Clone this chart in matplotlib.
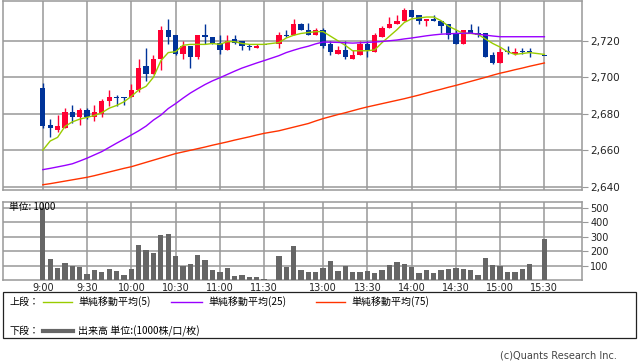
import matplotlib
matplotlib.use('Agg')
import matplotlib.pyplot as plt
from matplotlib.patches import Rectangle
from matplotlib.lines import Line2D
from matplotlib.ticker import FuncFormatter

# 5-minute bars (morning 9:00-11:30, afternoon 12:30-15:20, close 15:30)
times = ['9:00', '9:05', '9:10', '9:15', '9:20', '9:25', '9:30', '9:35', '9:40', '9:45',
         '9:50', '9:55', '10:00', '10:05', '10:10', '10:15', '10:20', '10:25', '10:30', '10:35',
         '10:40', '10:45', '10:50', '10:55', '11:00', '11:05', '11:10', '11:15', '11:20', '11:25',
         '11:30',
         '12:30', '12:35', '12:40', '12:45', '12:50', '12:55', '13:00', '13:05', '13:10', '13:15',
         '13:20', '13:25', '13:30', '13:35', '13:40', '13:45', '13:50', '13:55', '14:00', '14:05',
         '14:10', '14:15', '14:20', '14:25', '14:30', '14:35', '14:40', '14:45', '14:50', '14:55',
         '15:00', '15:05', '15:10', '15:15', '15:20', '15:30']

opens = [2694, 2674, 2671, 2672, 2681, 2678, 2682, 2678, 2680, 2687,
         2689, 2689, 2689, 2693, 2706, 2702, 2710, 2726, 2723, 2713,
         2717, 2711, 2723, 2722, 2719, 2715, 2721, 2720, 2717, 2716,
         2718,
         2718, 2723, 2723, 2729, 2726, 2723, 2726, 2718, 2713, 2715,
         2710, 2712, 2718, 2714, 2722, 2727, 2729, 2731, 2737, 2734,
         2731, 2732, 2731, 2729, 2724, 2718, 2726, 2724, 2724, 2712,
         2708, 2714, 2713, 2714, 2714, 2712]
highs = [2697, 2677, 2679, 2683, 2685, 2683, 2683, 2685, 2688, 2693,
         2690, 2689, 2696, 2710, 2716, 2712, 2728, 2732, 2723, 2720,
         2717, 2723, 2729, 2722, 2723, 2723, 2723, 2720, 2718, 2718,
         2718,
         2725, 2726, 2732, 2730, 2730, 2727, 2727, 2720, 2717, 2720,
         2715, 2720, 2720, 2724, 2728, 2733, 2734, 2738, 2737, 2734,
         2732, 2734, 2731, 2729, 2726, 2726, 2729, 2728, 2724, 2714,
         2716, 2717, 2716, 2716, 2716, 2712]
lows = [2672, 2667, 2670, 2672, 2675, 2674, 2677, 2676, 2678, 2684,
        2684, 2685, 2689, 2692, 2698, 2702, 2704, 2718, 2712, 2710,
        2705, 2710, 2718, 2718, 2713, 2715, 2718, 2715, 2715, 2716,
        2718,
        2716, 2722, 2723, 2726, 2723, 2723, 2716, 2712, 2713, 2710,
        2710, 2712, 2711, 2714, 2722, 2727, 2729, 2731, 2733, 2729,
        2728, 2731, 2724, 2721, 2718, 2718, 2724, 2722, 2711, 2707,
        2708, 2713, 2712, 2713, 2711, 2712]
closes = [2673, 2672, 2673, 2681, 2678, 2682, 2678, 2681, 2687, 2689,
          2689, 2689, 2693, 2705, 2702, 2710, 2726, 2722, 2713, 2717,
          2711, 2723, 2722, 2719, 2715, 2720, 2719, 2717, 2717, 2717,
          2718,
          2723, 2723, 2729, 2726, 2723, 2726, 2717, 2714, 2715, 2711,
          2712, 2718, 2715, 2723, 2727, 2729, 2731, 2737, 2733, 2731,
          2732, 2731, 2728, 2723, 2718, 2726, 2724, 2723, 2711, 2708,
          2714, 2714, 2714, 2714, 2714, 2712]
volume = [500, 146, 86, 118, 97, 93, 42, 69, 56, 76,
          63, 35, 76, 243, 208, 188, 312, 319, 167, 97,
          111, 174, 139, 69, 56, 83, 28, 35, 23, 23,
          7,
          167, 93, 236, 69, 56, 56, 86, 132, 63, 97,
          56, 56, 63, 49, 69, 104, 125, 111, 93, 49,
          69, 49, 69, 76, 83, 76, 69, 35, 153, 104,
          97, 56, 56, 76, 111, 285]
ma5 = [2660, 2665, 2667, 2673, 2675.5, 2677, 2678, 2679, 2680.5, 2683,
       2684.5, 2686.5, 2689.5, 2693, 2695, 2700, 2709, 2713.5, 2714, 2717.5,
       2718, 2718, 2718, 2718.5, 2718, 2719.5, 2719.5, 2718.5, 2718, 2718,
       2718,
       2719, 2721.5, 2723, 2724, 2724.5, 2725, 2725, 2722.5, 2720, 2717.5,
       2714.5, 2714.5, 2714.5, 2715, 2719, 2722.5, 2726, 2730, 2732, 2732.5,
       2733, 2733, 2731, 2728, 2726, 2724, 2724, 2723.5, 2721, 2718.5,
       2716.5, 2714, 2712.5, 2713, 2713.5, 2712.5]
ma25 = [2649.3, 2650, 2650.8, 2651.6, 2652.5, 2654, 2655.6, 2657.4, 2659.2, 2661.5,
        2663.8, 2666, 2668.3, 2670.6, 2673.2, 2676.5, 2679.2, 2682.8, 2685.5, 2688.5,
        2691.3, 2693.7, 2696, 2698, 2699.7, 2701.5, 2703.3, 2705, 2706.4, 2707.8,
        2709.1,
        2711.8, 2713.5, 2714.8, 2716, 2717, 2718.3, 2719.3, 2719.2, 2719.1, 2718.9,
        2718.7, 2718.9, 2719.1, 2719.3, 2719.6, 2720, 2720.4, 2721, 2721.5, 2722.1,
        2722.7, 2723.2, 2723.6, 2723.8, 2724, 2724.1, 2724.2, 2723.6, 2723.1, 2722.6,
        2722.2, 2722.2, 2722.2, 2722.2, 2722.2, 2722.2]
ma75 = [2641.0, 2641.6, 2642.3, 2643.0, 2643.7, 2644.4, 2645.1, 2646.0, 2647.0, 2648.0,
        2649.0, 2650.0, 2650.9, 2652.1, 2653.3, 2654.5, 2655.7, 2656.9, 2658.1, 2659.0,
        2659.9, 2660.8, 2661.7, 2662.7, 2663.6, 2664.5, 2665.5, 2666.4, 2667.3, 2668.3,
        2669.2,
        2670.6, 2671.6, 2672.6, 2673.6, 2674.6, 2676.0, 2677.3, 2678.4, 2679.5, 2680.5,
        2681.6, 2682.7, 2683.7, 2684.6, 2685.5, 2686.4, 2687.3, 2688.2, 2689.2, 2690.2,
        2691.3, 2692.4, 2693.4, 2694.5, 2695.5, 2696.6, 2697.7, 2698.8, 2699.9, 2701.1,
        2702.2, 2703.1, 2704.1, 2705.0, 2706.0, 2707.8]

tick_times = ['9:00', '9:30', '10:00', '10:30', '11:00', '11:30',
              '13:00', '13:30', '14:00', '14:30', '15:00', '15:30']
price_ticks = [2640, 2660, 2680, 2700, 2720]
vol_ticks = [100, 200, 300, 400, 500]

RED = '#ff0033'
BLUE = '#003399'
GRID = '#999999'
JP = ['Noto Sans CJK JP', 'DejaVu Sans']


def slot(t):
    # position on the compressed session axis (lunch break removed)
    h, m = map(int, t.split(':'))
    mins = h * 60 + m
    if mins <= 11 * 60 + 30:
        return (mins - 540) / 5
    return (mins - 750) / 5 + 32


W, H = 638, 362
fig = plt.figure(figsize=(W / 100, H / 100), dpi=100)
fig.patch.set_facecolor('white')


def box(l, t, r, b):
    return [l / W, 1 - b / H, (r - l) / W, (b - t) / H]


ax = fig.add_axes(box(3, 1, 582, 189.5))
axv = fig.add_axes(box(3, 202, 582, 280))

xs = [slot(t) for t in times]
xt = [slot(t) for t in tick_times]

# candles
for x, o, h, l, c in zip(xs, opens, highs, lows, closes):
    col = RED if c > o else BLUE
    ax.vlines(x, l, h, color=col, lw=1, zorder=3)
    hgt = max(abs(c - o), 0.5)
    bot = min(o, c) if c != o else o - 0.25
    ax.bar(x, hgt, bottom=bot, width=0.72, color=col, lw=0, zorder=4)

ax.plot(xs, ma5, color='#99cc00', lw=1, zorder=5)
ax.plot(xs, ma25, color='#9900ff', lw=1, zorder=5)
ax.plot(xs, ma75, color='#ff3300', lw=1, zorder=5)

ax.set_xlim(-5.4, 73.1)
ax.set_ylim(2638.4, 2741.8)
ax.set_xticks(xt)
ax.set_xticklabels([])
ax.tick_params(axis='x', length=0)
ax.set_yticks(price_ticks)
ax.yaxis.set_major_formatter(FuncFormatter(lambda v, p: f'{v:,.0f}'))
ax.yaxis.tick_right()
ax.tick_params(axis='y', length=4, color=GRID, labelsize=7.5, pad=2, labelcolor='#222222')
ax.grid(True, color=GRID, lw=1.1)
ax.set_axisbelow(True)

# volume
axv.bar(xs, volume, width=0.72, color='#666666', lw=0, zorder=3)
axv.set_xlim(-5.4, 73.1)
axv.set_ylim(0, 540)
axv.set_xticks(xt)
axv.set_xticklabels(tick_times)
axv.tick_params(axis='x', length=0, labelsize=7, pad=2, labelcolor='#222222')
axv.set_yticks(vol_ticks)
axv.yaxis.tick_right()
axv.tick_params(axis='y', length=4, color=GRID, labelsize=7, pad=2, labelcolor='#222222')
axv.grid(True, color=GRID, lw=1.1)
axv.set_axisbelow(True)
axv.text(0.01, 0.93, '単位: 1000', transform=axv.transAxes, family=JP,
         fontsize=7, va='center', ha='left', zorder=6)

for a in (ax, axv):
    for s in a.spines.values():
        s.set_color(GRID)
        s.set_linewidth(1.1)

# legend box
fig.patches.append(Rectangle((3 / W, 1 - 338 / H), 633 / W, 46 / H,
                             transform=fig.transFigure, fill=False,
                             edgecolor='#222222', lw=0.9))


def ftext(x, y, s, **kw):
    fig.text(x / W, 1 - y / H, s, family=JP, fontsize=7.2, va='center', **kw)


def fline(x0, x1, y, col, lw):
    fig.lines.append(Line2D([x0 / W, x1 / W], [1 - y / H, 1 - y / H],
                            transform=fig.transFigure, color=col, lw=lw))


ftext(10, 302, '上段：')
fline(43, 72, 302, '#99cc00', 1)
ftext(78, 302, '単純移動平均(5)')
fline(171, 202, 302, '#9900ff', 1)
ftext(208, 302, '単純移動平均(25)')
fline(316, 345, 302, '#ff3300', 1)
ftext(351, 302, '単純移動平均(75)')
ftext(10, 331, '下段：')
fline(43, 73, 331, '#666666', 3)
ftext(78, 331, '出来高 単位:(1000株/口/枚)')
fig.text(617 / W, 1 - 355 / H, '(c)Quants Research Inc.', fontsize=7,
         color='#444444', ha='right', va='center')

fig.savefig('out.png', dpi=100)
